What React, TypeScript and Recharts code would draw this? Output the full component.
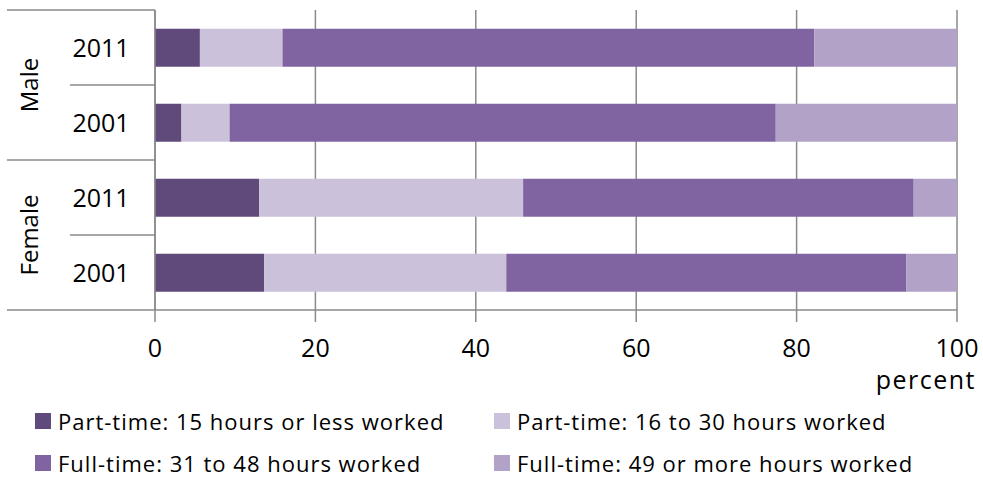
import React from 'react';
import { BarChart, Bar, XAxis, YAxis, CartesianGrid, Legend, Label } from 'recharts';

const groups = ['Male', 'Male', 'Female', 'Female'];
const years = ['2011', '2001', '2011', '2001'];
const pt15 = [5.6, 3.3, 13.0, 13.6];
const pt16to30 = [10.3, 6.0, 32.9, 30.2];
const ft31to48 = [66.3, 68.1, 48.7, 49.9];
const ft49 = [17.8, 22.6, 5.4, 6.3];

const seriesKeys = ['pt15', 'pt16to30', 'ft31to48', 'ft49'];
const seriesNames = [
  'Part-time: 15 hours or less worked',
  'Part-time: 16 to 30 hours worked',
  'Full-time: 31 to 48 hours worked',
  'Full-time: 49 or more hours worked',
];
const seriesColors = ['#604A7B', '#CCC1DA', '#8064A2', '#B3A2C7'];
const xTicks = [0, 20, 40, 60, 80, 100];
const xLabel = 'percent';

const data = years.map((year, i) => ({
  key: `${groups[i]} ${year}`,
  group: groups[i],
  year,
  pt15: pt15[i],
  pt16to30: pt16to30[i],
  ft31to48: ft31to48[i],
  ft49: ft49[i],
}));

const FONT = '"Open Sans", sans-serif';
const LINE = '#8a8a8a';

const CategoryTick = (props: any) => {
  const { y, payload, index } = props;
  const half = (payload && payload.offset) || 37.5;
  const i = typeof index === 'number' ? index : 0;
  const n = groups.length;
  const isGroupStart = i === 0 || groups[i] !== groups[i - 1];
  const isGroupEnd = i === n - 1 || groups[i] !== groups[i + 1];
  let count = 0;
  if (isGroupStart) {
    let j = i;
    while (j < n && groups[j] === groups[i]) {
      count++;
      j++;
    }
  }
  const groupCenter = y - half + count * half;
  return (
    <g>
      {i === 0 && <line x1={7} x2={155} y1={y - half} y2={y - half} stroke={LINE} strokeWidth={1.5} />}
      <line x1={isGroupEnd ? 7 : 70} x2={155} y1={y + half} y2={y + half} stroke={LINE} strokeWidth={1.5} />
      <text x={101} y={y} dy="0.36em" textAnchor="middle" fontSize={25} fontFamily={FONT} fill="#000">
        {years[i]}
      </text>
      {isGroupStart && (
        <text
          x={38}
          y={groupCenter}
          textAnchor="middle"
          fontSize={24}
          fontFamily={FONT}
          fill="#000"
          transform={`rotate(-90, 38, ${groupCenter})`}
        >
          {groups[i]}
        </text>
      )}
    </g>
  );
};

const LegendContent = () => (
  <div
    style={{
      display: 'grid',
      gridTemplateColumns: '459px 461px',
      rowGap: 16,
      fontFamily: FONT,
      fontSize: 22,
      letterSpacing: 1,
      color: '#000',
      paddingLeft: 35,
    }}
  >
    {seriesNames.map((name, i) => (
      <div key={name} style={{ display: 'flex', alignItems: 'center', height: 26, whiteSpace: 'nowrap' }}>
        <span
          style={{
            display: 'inline-block',
            width: 16,
            height: 16,
            background: seriesColors[i],
            marginRight: 7,
            flex: 'none',
          }}
        />
        <span>{name}</span>
      </div>
    ))}
  </div>
);

export default function App() {
  return (
    <div style={{ position: 'absolute', left: 0, top: 0, width: 983, height: 477, background: '#fff' }}>
      <BarChart
        width={983}
        height={477}
        data={data}
        layout="vertical"
        margin={{ top: 10, right: 26, left: 0, bottom: 87 }}
        barCategoryGap="25%"
        style={{ fontFamily: FONT }}
      >
        <CartesianGrid horizontal={false} stroke={LINE} strokeWidth={1.5} />
        <XAxis
          type="number"
          domain={[0, 100]}
          ticks={xTicks}
          interval={0}
          height={80}
          tickSize={12}
          tickMargin={17}
          axisLine={{ stroke: LINE, strokeWidth: 1.5 }}
          tickLine={{ stroke: LINE, strokeWidth: 1.5 }}
          tick={{ fontSize: 25, fill: '#000', fontFamily: FONT }}
        >
          <Label
            value={xLabel}
            position="insideBottomRight"
            offset={1}
            dx={20}
            style={{ fontSize: 25, fill: '#000', fontFamily: FONT, letterSpacing: 1.5 }}
          />
        </XAxis>
        <YAxis
          type="category"
          dataKey="key"
          width={155}
          axisLine={{ stroke: LINE, strokeWidth: 1.5 }}
          tickLine={false}
          interval={0}
          tick={(p: any) => <CategoryTick {...p} />}
        />
        {seriesKeys.map((k, i) => (
          <Bar
            key={k}
            dataKey={k}
            name={seriesNames[i]}
            stackId="a"
            fill={seriesColors[i]}
            isAnimationActive={false}
          />
        ))}
        <Legend
          layout="horizontal"
          verticalAlign="middle"
          align="center"
          wrapperStyle={{ left: 0, top: 408, width: 983 }}
          content={() => <LegendContent />}
        />
      </BarChart>
    </div>
  );
}
